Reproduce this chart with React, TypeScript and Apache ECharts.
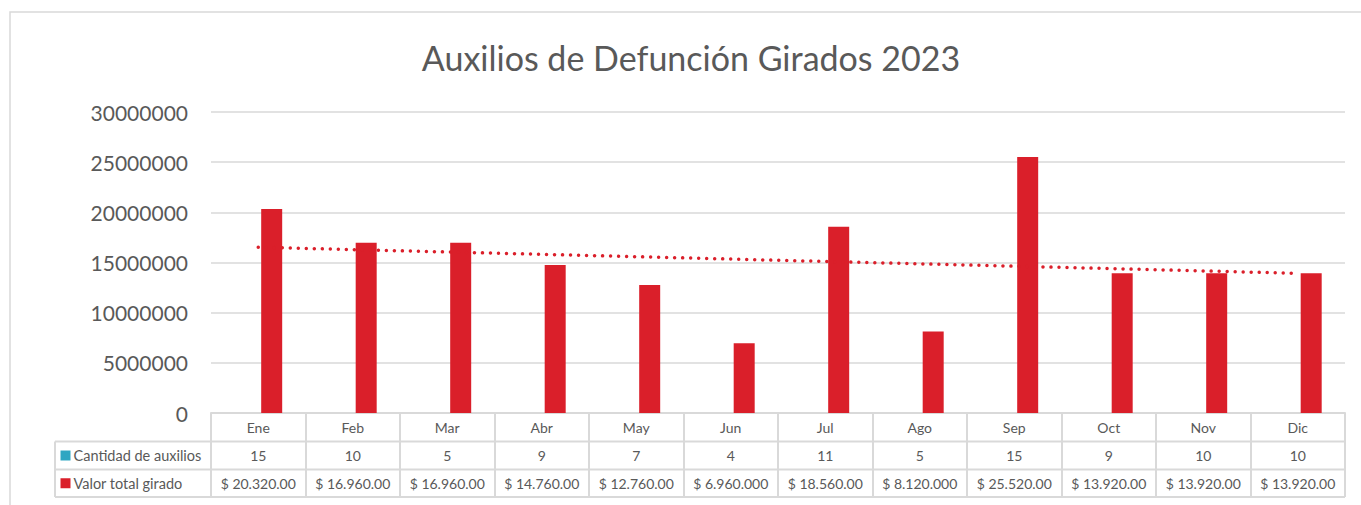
import React, { useEffect, useRef } from "react";
import * as echarts from "echarts";

const TITLE = "Auxilios de Defunción Girados 2023";
const MONTHS = ["Ene", "Feb", "Mar", "Abr", "May", "Jun", "Jul", "Ago", "Sep", "Oct", "Nov", "Dic"];
const CANTIDAD = [15, 10, 5, 9, 7, 4, 11, 5, 15, 9, 10, 10];
const VALOR = [20320000, 16960000, 16960000, 14760000, 12760000, 6960000, 18560000, 8120000, 25520000, 13920000, 13920000, 13920000];
const VALOR_LABELS = [
  "$ 20.320.00", "$ 16.960.00", "$ 16.960.00", "$ 14.760.00", "$ 12.760.00", "$ 6.960.000",
  "$ 18.560.00", "$ 8.120.000", "$ 25.520.00", "$ 13.920.00", "$ 13.920.00", "$ 13.920.00",
];
const SERIES_NAMES = ["Cantidad de auxilios", "Valor total girado"];
const Y_MIN = 0;
const Y_MAX = 30000000;
const Y_INTERVAL = 5000000;

// linear trendline (least squares) of VALOR, as Excel draws it
function linearTrend(values: number[]): number[] {
  const n = values.length;
  const xs = values.map((_, i) => i + 1);
  const mx = xs.reduce((a, b) => a + b, 0) / n;
  const my = values.reduce((a, b) => a + b, 0) / n;
  let sxy = 0, sxx = 0;
  for (let i = 0; i < n; i++) {
    sxy += (xs[i] - mx) * (values[i] - my);
    sxx += (xs[i] - mx) * (xs[i] - mx);
  }
  const b = sxy / sxx;
  const a = my - b * mx;
  return xs.map((x) => a + b * x);
}

const FONT = "Lato, 'Open Sans', sans-serif";
const TEXT = "#595959";
const LINE = "#d9d9d9";
const RED = "#da1f2a";
const TEAL = "#2ea6c2";
const SERIES_COLORS = [TEAL, RED];

const W = 1361;
const H = 505;
const GRID_LEFT = 211;
const GRID_RIGHT = 1345;
const GRID_TOP = 112;
const AXIS_Y = 413;
const ROW1 = 441.5;
const ROW2 = 469.5;
const ROW3 = 497;
const LEGEND_LEFT = 55;

export default function App() {
  const ref = useRef<HTMLDivElement>(null);
  useEffect(() => {
    if (!ref.current) return;
    const chart = echarts.init(ref.current, undefined, { renderer: "svg", width: W, height: H });
    const hLine = (y: number) => ({
      type: "line",
      shape: { x1: LEGEND_LEFT, y1: y, x2: GRID_RIGHT, y2: y },
      style: { stroke: LINE, lineWidth: 2 },
      silent: true,
    });
    const rowCenters = [(ROW1 + ROW2) / 2, (ROW2 + ROW3) / 2];
    const legendItems: any[] = [];
    SERIES_NAMES.forEach((name, i) => {
      legendItems.push({
        type: "rect",
        shape: { x: 60.5, y: rowCenters[i] - 5, width: 10, height: 10 },
        style: { fill: SERIES_COLORS[i] },
        silent: true,
      });
      legendItems.push({
        type: "text",
        x: 73.5,
        y: rowCenters[i],
        style: {
          text: name,
          fontFamily: FONT,
          fontSize: 14.5,
          fill: TEXT,
          textAlign: "left",
          textVerticalAlign: "middle",
        },
        silent: true,
      });
    });
    chart.setOption({
      animation: false,
      backgroundColor: "#ffffff",
      textStyle: { fontFamily: FONT },
      graphic: [
        {
          type: "rect",
          shape: { x: 10, y: 12, width: W + 20, height: H + 20 },
          style: { fill: "none", stroke: LINE, lineWidth: 1.5 },
          silent: true,
        },
        {
          type: "text",
          x: 691,
          y: 57,
          style: {
            text: TITLE,
            fontFamily: FONT,
            fontSize: 34,
            fill: TEXT,
            textAlign: "center",
            textVerticalAlign: "middle",
          },
        },
        hLine(ROW1),
        hLine(ROW2),
        hLine(ROW3),
        {
          type: "line",
          shape: { x1: LEGEND_LEFT, y1: ROW1, x2: LEGEND_LEFT, y2: ROW3 },
          style: { stroke: LINE, lineWidth: 2 },
          silent: true,
        },
        ...legendItems,
      ],
      legend: { show: false },
      grid: {
        left: GRID_LEFT,
        right: W - GRID_RIGHT,
        top: GRID_TOP,
        bottom: H - AXIS_Y,
        containLabel: false,
      },
      xAxis: {
        type: "category",
        data: MONTHS,
        axisLine: { show: true, lineStyle: { color: LINE, width: 2 } },
        axisTick: { show: true, interval: 0, length: ROW3 - AXIS_Y, lineStyle: { color: LINE, width: 2 } },
        axisLabel: {
          interval: 0,
          margin: 0,
          hideOverlap: false,
          color: TEXT,
          fontFamily: FONT,
          fontSize: 14,
          lineHeight: 28,
          formatter: (value: string, idx: number) => `${value}\n${CANTIDAD[idx]}\n${VALOR_LABELS[idx]}`,
        },
      },
      yAxis: {
        type: "value",
        min: Y_MIN,
        max: Y_MAX,
        interval: Y_INTERVAL,
        axisLine: { show: false },
        axisTick: { show: false },
        axisLabel: {
          color: TEXT,
          fontFamily: FONT,
          fontSize: 21,
          margin: 23,
          formatter: (v: number) => String(v),
        },
        splitLine: { lineStyle: { color: LINE, width: 1.5 } },
      },
      series: [
        {
          name: SERIES_NAMES[0],
          type: "bar",
          data: CANTIDAD,
          barWidth: 21,
          barGap: "28%",
          itemStyle: { color: TEAL },
        },
        {
          name: SERIES_NAMES[1],
          type: "bar",
          data: VALOR,
          barWidth: 21,
          barGap: "28%",
          itemStyle: { color: RED },
        },
        {
          name: "Lineal (Valor total girado)",
          type: "line",
          data: linearTrend(VALOR),
          symbol: "none",
          silent: true,
          lineStyle: { color: RED, width: 3.5, type: [0.01, 8], cap: "round" },
          z: 5,
        },
      ],
    });
    return () => chart.dispose();
  }, []);
  return (
    <div
      ref={ref}
      style={{ position: "absolute", left: 0, top: 0, width: W, height: H, background: "#fff" }}
    />
  );
}
